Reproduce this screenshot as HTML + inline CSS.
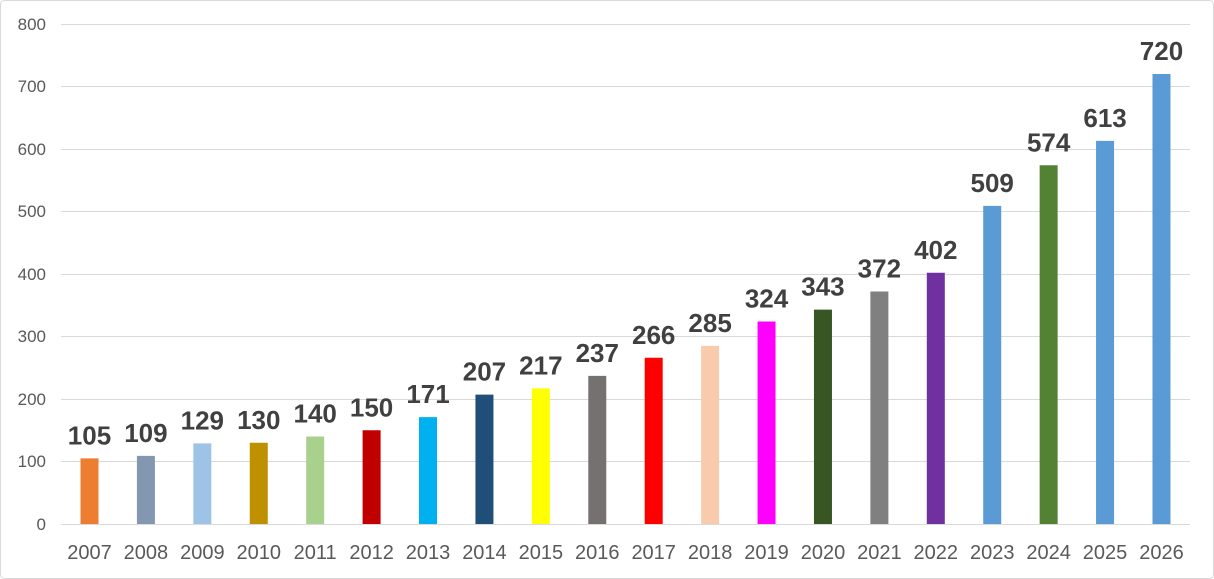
<!DOCTYPE html>
<html><head><meta charset="utf-8"><style>
html,body{margin:0;padding:0;background:#fff;}
svg{display:block;font-family:"Liberation Sans",Arial,sans-serif;}
</style></head><body>
<svg width="1214" height="579" viewBox="0 0 1214 579">
<rect x="0.5" y="0.5" width="1213" height="578" rx="4" fill="#fff" stroke="#d9d9d9"/>
<g stroke="#d9d9d9" stroke-width="1">
<line x1="61" x2="1190" y1="24.5" y2="24.5"/>
<line x1="61" x2="1190" y1="86.5" y2="86.5"/>
<line x1="61" x2="1190" y1="149.5" y2="149.5"/>
<line x1="61" x2="1190" y1="211.5" y2="211.5"/>
<line x1="61" x2="1190" y1="274.5" y2="274.5"/>
<line x1="61" x2="1190" y1="336.5" y2="336.5"/>
<line x1="61" x2="1190" y1="399.5" y2="399.5"/>
<line x1="61" x2="1190" y1="461.5" y2="461.5"/>
<line x1="61" x2="1190" y1="524.5" y2="524.5"/>
</g>
<g font-size="17" fill="#595959" text-anchor="end">
<text x="46" y="30">800</text><text x="46" y="92">700</text><text x="46" y="155">600</text>
<text x="46" y="217">500</text><text x="46" y="280">400</text><text x="46" y="342">300</text>
<text x="46" y="405">200</text><text x="46" y="467">100</text><text x="46" y="530">0</text>
</g>
<g id="bars"></g>
<g id="lbl" font-size="26" font-weight="bold" fill="#404040" text-anchor="middle"></g>
<g id="xl" font-size="20" fill="#595959" text-anchor="middle"></g>
</svg>
<script>
var v=[105,109,129,130,140,150,171,207,217,237,266,285,324,343,372,402,509,574,613,720];
var c=["#ED7D31","#8497B0","#9DC3E6","#BF9000","#A9D18E","#C00000","#00B0F0","#1F4E79","#FFFF00","#767171","#FF0000","#F8CBAD","#FF00FF","#375623","#808080","#7030A0","#5B9BD5","#548235","#5B9BD5","#5B9BD5"];
var ns="http://www.w3.org/2000/svg",b=document.getElementById("bars"),l=document.getElementById("lbl"),x=document.getElementById("xl");
for(var i=0;i<20;i++){var cx=89.5+i*56.42,h=v[i]*0.625,y=524-h;
var r=document.createElementNS(ns,"rect");r.setAttribute("x",cx-9);r.setAttribute("y",y);r.setAttribute("width",18);r.setAttribute("height",h);r.setAttribute("fill",c[i]);b.appendChild(r);
var t=document.createElementNS(ns,"text");t.setAttribute("x",cx);t.setAttribute("y",y-14);t.textContent=v[i];l.appendChild(t);
var u=document.createElementNS(ns,"text");u.setAttribute("x",cx);u.setAttribute("y",559);u.textContent=2007+i;x.appendChild(u);}
</script>
</body></html>
